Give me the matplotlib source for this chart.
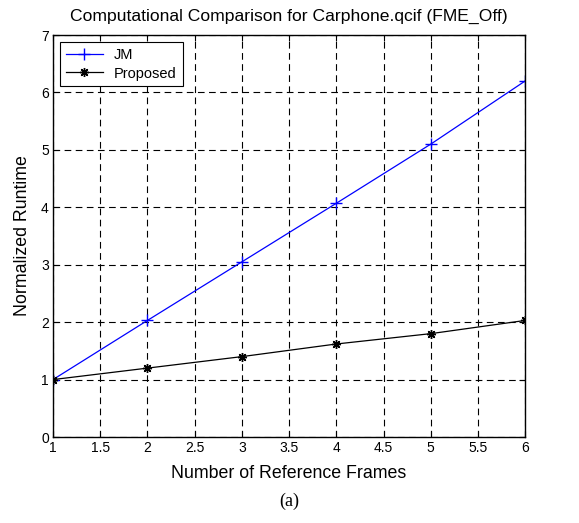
import matplotlib
matplotlib.use("Agg")
import matplotlib.pyplot as plt

frames = [1, 2, 3, 4, 5, 6]
jm = [1.0, 2.03, 3.05, 4.07, 5.1, 6.2]
proposed = [1.0, 1.2, 1.4, 1.62, 1.8, 2.03]
xticks = [1, 1.5, 2, 2.5, 3, 3.5, 4, 4.5, 5, 5.5, 6]
yticks = [0, 1, 2, 3, 4, 5, 6, 7]

plt.rcParams['font.family'] = ['Liberation Sans', 'DejaVu Sans']
fig = plt.figure(figsize=(5.79, 5.23), dpi=100)
ax = fig.add_axes([0.0915, 0.1644, 0.8155, 0.7686])
ax.plot(frames, jm, color='#0000ff', marker='+', markersize=9, markeredgewidth=1.0,
        linewidth=0.9, label='JM')
ax.plot(frames, proposed, color='black', marker=(8, 2, 0), markersize=6.5, markeredgewidth=1.0,
        linewidth=0.9, label='Proposed')
ax.set_xlim(1, 6)
ax.set_ylim(0, 7)
ax.set_xticks(xticks)
ax.set_xticklabels(['1', '1.5', '2', '2.5', '3', '3.5', '4', '4.5', '5', '5.5', '6'])
ax.set_yticks(yticks)
ax.grid(True, color='black', linestyle=(0, (6, 4)), linewidth=0.8)
ax.tick_params(direction='in', top=True, right=True, labelsize=10, length=4, pad=3)
for s in ax.spines.values():
    s.set_linewidth(1.0)
ax.set_title('Computational Comparison for Carphone.qcif (FME_Off)', fontsize=12.6, pad=10)
ax.set_xlabel('Number of Reference Frames', fontsize=12.8, labelpad=7)
ax.set_ylabel('Normalized Runtime', fontsize=12.8, labelpad=7)
leg = ax.legend(loc='upper left', fontsize=10.5, fancybox=False, framealpha=1, edgecolor='black',
                handlelength=2.5, borderpad=0.4, labelspacing=0.3, borderaxespad=0.5)
leg.get_frame().set_linewidth(0.8)
fig.text(0.5, 0.041, '(a)', ha='center', va='center', fontsize=13, family='Liberation Serif')
fig.savefig('out.png', dpi=100)
